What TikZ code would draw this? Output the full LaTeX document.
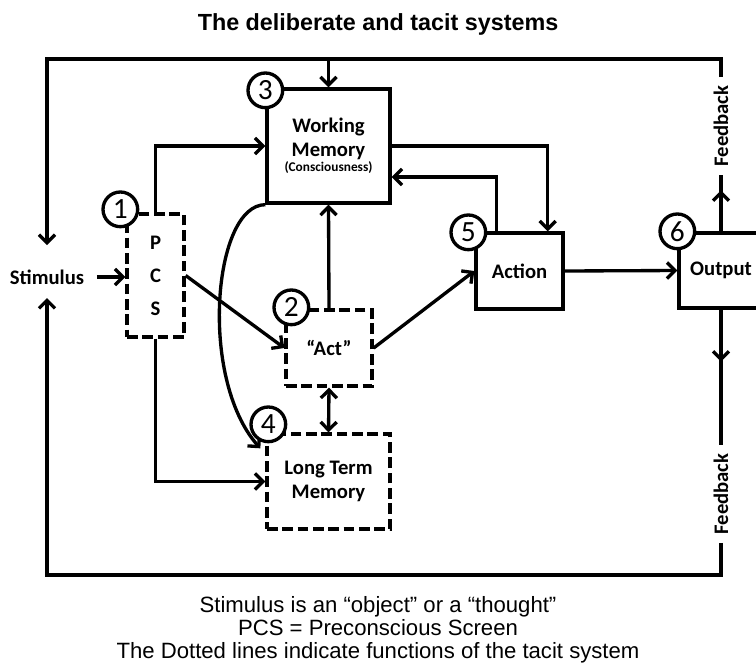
\documentclass[tikz,border=0pt]{standalone}
\usepackage{fontspec}
\setmainfont{Carlito}
\newfontfamily\arialfont{Liberation Sans}
\usetikzlibrary{arrows.meta,calc}

\begin{document}
\begin{tikzpicture}[x=0.75pt,y=-0.75pt,
  line width=2.5pt,
  tip/.tip={Straight Barb[length=6pt,width=12pt]},
  arr/.style={-tip},
  darr/.style={tip-tip},
  boxtext/.style={font=\fontsize{15.5}{18}\selectfont\bfseries, align=center},
  solidbox/.style={draw, rectangle, inner sep=0pt, boxtext},
  tacitbox/.style={solidbox, dash pattern=on 8pt off 3.5pt},
  numcircle/.style={draw, circle, fill=white, minimum size=26pt, inner sep=0pt,
    font=\fontsize{22}{22}\selectfont},
  fblabel/.style={rotate=90, boxtext, inner xsep=5pt, inner ysep=0pt},
  notetext/.style={font=\arialfont\fontsize{16.6}{20}\selectfont, anchor=base},
]
\clip (0,0) rectangle (756,664);

% title
\node[font=\arialfont\bfseries\fontsize{17.5}{20}\selectfont, anchor=base] (title)
  at (378,30) {The deliberate and tacit systems};

% boxes
\node[solidbox, minimum width=92.25pt, minimum height=85.5pt] (wm) at (328.5,146)
  {Working\\Memory\\[-7pt]{\fontsize{10}{12}\selectfont(Consciousness)}};
\node[tacitbox, minimum width=42.75pt, minimum height=92.25pt, font=\fontsize{15.5}{24.75}\selectfont\bfseries] (pcs)
  at (155.5,275.5) {P\\C\\S};
\node[tacitbox, minimum width=64.5pt, minimum height=57pt] (act) at (329,348) {“Act”};
\node[tacitbox, minimum width=92.25pt, minimum height=71.25pt] (ltm) at (328.5,481.5)
  {Long Term\\Memory};
\node[solidbox, minimum width=65.25pt, minimum height=57pt] (action) at (519.5,271) {Action};
\node[solidbox, minimum width=63pt, minimum height=56.25pt] (output) at (721,270.5) {Output};

% stimulus and feedback labels
\node[boxtext] (stim) at (47,277) {Stimulus};
\node[fblabel] (fbup) at (721,126) {Feedback};
\node[fblabel] (fblow) at (721,494) {Feedback};

% corners of the outer feedback loop
\coordinate (loopNW) at (47,59);
\coordinate (loopSW) at (47,575);
\coordinate (stimtop) at (47,245);
\coordinate (stimbot) at (47,298);

% outer loop
\draw[arr] (fbup.east) -- (fbup.east |- loopNW) -- (loopNW) -- (stimtop);
\draw[arr] (wm.north |- loopNW) -- (wm.north);
\draw (output.north) -- (fbup.west);
\draw[arr] (output.north) -- ++(0,-41);
\draw (output.south) -- (fblow.east);
\draw[arr] (output.south) -- ++(0,52);
\draw[arr] (fblow.west) -- (fblow.west |- loopSW) -- (loopSW) -- (stimbot);

% inner connectors
\draw[arr, shorten <=5pt] (stim.east) -- (pcs.west |- stim.east);
\draw[arr] (pcs.north) |- (wm.west);
\draw[arr] (pcs.south) |- (ltm.west);
\draw[arr] (pcs.east) -- (act.west);
\draw[arr] (act.north) -- (wm.south);
\draw[darr] (act.south) -- (ltm.north);
\draw[arr] (act.east) -- (action.west);
\draw[arr] (action.east) -- (output.west);
\draw[arr] (wm.east) -| ($(action.north east)+(-17,0)$);
\draw[arr] ($(action.north west)+(22,0)$) |- ($(wm.east)+(0,31)$);
\draw[arr] (wm.south west) .. controls +(-52,0) and +(-62,-70) .. ($(ltm.north west)+(-5,16)$);

% numbered markers
\node[numcircle] (n1) at ($(pcs.north west)+(-5,-3)$) {1};
\node[numcircle] (n2) at ($(act.north west)+(7,-1)$) {2};
\node[numcircle] (n3) at ($(wm.north west)+(0,3)$) {3};
\node[numcircle] (n4) at ($(ltm.north west)+(3,-8)$) {4};
\node[numcircle] (n5) at ($(action.north west)+(-6,1)$) {5};
\node[numcircle] (n6) at (output.north west) {6};

% notes
\node[notetext] (note1) at (378,612) {Stimulus is an “object” or a “thought”};
\node[notetext] (note2) at (378,635) {PCS = Preconscious Screen};
\node[notetext] (note3) at (378,658) {The Dotted lines indicate functions of the tacit system};
\end{tikzpicture}
\end{document}
